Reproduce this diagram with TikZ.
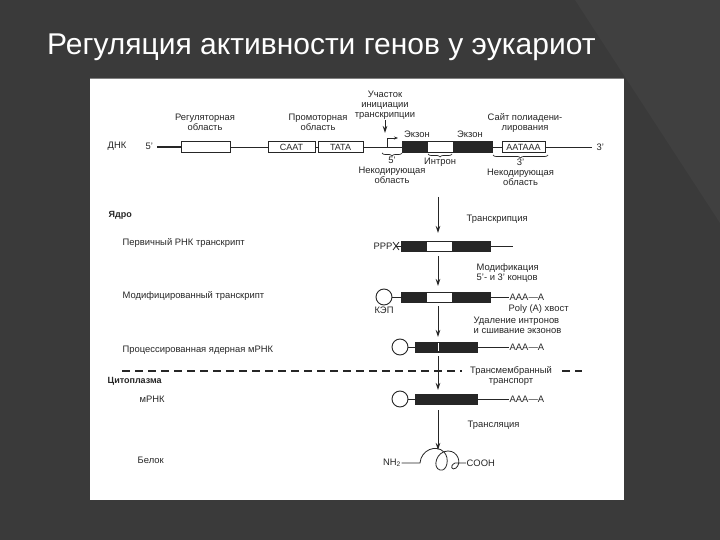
\documentclass[tikz,border=0pt]{standalone}
\usepackage{fontspec}
\setmainfont{Liberation Sans}
\usetikzlibrary{arrows.meta,decorations.pathreplacing,positioning}

\newcommand*{\arrx}{438}
\newcommand*{\rowdna}{147}
\newcommand*{\rowpri}{246}
\newcommand*{\rowmod}{297}
\newcommand*{\rowpro}{347}
\newcommand*{\rowmem}{371}
\newcommand*{\rowmrna}{399}
\newcommand*{\rowprot}{463}

\definecolor{slidebg}{HTML}{3A3A3A}
\definecolor{slidelt}{HTML}{404040}
\definecolor{ink}{HTML}{262626}

\tikzset{
  lbl/.style={font=\fontsize{9.4}{10.2}\selectfont, text=ink, inner sep=0.5pt, align=center},
  side/.style={lbl, anchor=west, align=left},
  plainbox/.style={draw=ink, line width=0.9pt, fill=white, minimum height=11, inner sep=0, font=\fontsize{9}{9}\selectfont, text=ink},
  exonbox/.style={draw=ink, fill=ink, line width=0.9pt, minimum height=11, inner sep=0},
  capnode/.style={circle, draw=ink, line width=0.9pt, minimum size=16, inner sep=0},
  strand/.style={draw=ink, line width=0.8pt},
  flow/.style={draw=ink, line width=0.9pt, -{Stealth[length=7pt,width=4.5pt]}},
  curly/.style={draw=ink, line width=0.7pt, decorate, decoration={brace, mirror, amplitude=3pt}},
  membr/.style={draw=ink, line width=1.2pt, dash pattern=on 8pt off 5pt}
}

\begin{document}
\begin{tikzpicture}[x=1pt,y=-1pt]
	\useasboundingbox (0,0) rectangle (720,540);

	% slide
	\fill[slidebg] (0,0) rectangle (720,540);
	\fill[slidelt] (575,0) -- (720,0) -- (720,223) -- cycle;
	\node[anchor=base west, text=white, font=\fontsize{30}{33}\selectfont, inner sep=0] (title) at (47,55) {Регуляция активности генов у эукариот};
	\fill[white] (90,78) rectangle (624,500);
	\draw[gray, line width=1pt] (90,79) -- (624,79);

	% DNA
	\node[side] (dnk) at (107,146) {ДНК};
	\node[side] (p5) at (145,146) {5'};
	\coordinate (d0) at (157,\rowdna);
	\node[plainbox, minimum width=49] (reg) at (205.5,\rowdna) {};
	\node[plainbox, minimum width=47] (caat) at (291.5,\rowdna) {CAAT};
	\node[plainbox, minimum width=45] (tata) at (340.5,\rowdna) {TATA};
	\node[exonbox, minimum width=25] (ex1) at (414.5,\rowdna) {};
	\node[plainbox, minimum width=26] (intr) at (440,\rowdna) {};
	\node[exonbox, minimum width=39] (ex2) at (472.5,\rowdna) {};
	\node[plainbox, minimum width=43] (aat) at (523.5,\rowdna) {AATAAA};
	\coordinate (d1) at (592,\rowdna);
	\node[side] (p3) at (596,\rowdna) {3'};
	\draw[strand, line width=1.2pt] (d0) -- (reg);
	\draw[strand] (reg) -- (caat) -- (tata) -- (ex1);
	\draw[strand] (ex2) -- (aat) -- (d1);

	% start of transcription
	\coordinate (tss) at (387,\rowdna);
	\coordinate (tssend) at (398,138);
	\coordinate (tsstop) at (385,133);
	\draw[strand, -{Stealth[length=4pt,width=3pt]}] (tss) |- (tssend);
	\node[lbl] (tsslbl) at (385,105) {Участок\\инициации\\транскрипции};
	\draw[flow] (tsslbl) -- (tsstop);

	% labels over the DNA
	\node[lbl] (regl) at (205,122) {Регуляторная\\область};
	\node[lbl] (prol) at (318,122) {Промоторная\\область};
	\node[lbl] (exl1) at (417,134) {Экзон};
	\node[lbl] (exl2) at (470,134) {Экзон};
	\node[lbl] (pal) at (525,123) {Сайт полиадени-\\лирования};

	% braces under the DNA
	\draw[curly] (382,153) -- (402,153) node[lbl, midway, below=3pt] (nc5) {5'};
	\node[lbl, below=2pt of nc5] (nc5l) {Некодирующая\\область};
	\draw[curly] (428,154) -- (452,154) node[lbl, midway, below=3pt] (intl) {Интрон};
	\draw[curly] (493,155) -- (548,155) node[lbl, midway, below=3pt] (nc3) {3'};
	\node[lbl, below=2pt of nc3] (nc3l) {Некодирующая\\область};

	% left column
	\node[side, font=\bfseries\fontsize{9}{10}\selectfont] (nucl) at (108,215) {Ядро};
	\node[side] (lpri) at (122,243) {Первичный РНК транскрипт};
	\node[side] (lmod) at (122,296) {Модифицированный транскрипт};
	\node[side] (lpro) at (122,350) {Процессированная ядерная мРНК};
	\node[side, font=\bfseries\fontsize{9}{10}\selectfont] (cyto) at (107,381) {Цитоплазма};
	\node[side] (lmrna) at (139,399) {мРНК};
	\node[side] (lprot) at (137,460) {Белок};

	% primary transcript
	\node[lbl] (ppp) at (383,\rowpri) {PPP};
	\coordinate (pppx) at (396,\rowpri);
	\draw[strand] (393,242) -- (399,250) (393,250) -- (399,242);
	\node[exonbox, minimum width=25, minimum height=10] (pe1) at (413.5,\rowpri) {};
	\node[plainbox, minimum width=26, minimum height=10] (pin) at (439,\rowpri) {};
	\node[exonbox, minimum width=38, minimum height=10] (pe2) at (471,\rowpri) {};
	\coordinate (pend) at (513,\rowpri);
	\draw[strand] (pppx) -- (pe1);
	\draw[strand] (pe2) -- (pend);

	% modified transcript
	\node[capnode] (cap1) at (384,\rowmod) {};
	\node[lbl, below=1pt of cap1] (kep) {КЭП};
	\node[exonbox, minimum width=25, minimum height=10] (me1) at (413.5,\rowmod) {};
	\node[plainbox, minimum width=26, minimum height=10] (min) at (439,\rowmod) {};
	\node[exonbox, minimum width=38, minimum height=10] (me2) at (471,\rowmod) {};
	\node[side] (polya1) at (509,\rowmod) {AAA---A};
	\node[side] (tail) at (508,309) {Poly (A) хвост};
	\draw[strand] (cap1) -- (me1);
	\draw[strand] (me2) -- (polya1);

	% processed nuclear mRNA
	\node[capnode] (cap2) at (400,\rowpro) {};
	\node[exonbox, minimum width=62, minimum height=10] (pm) at (446,\rowpro) {};
	\draw[white, line width=1pt] (438,343) -- (438,351);
	\node[side] (polya2) at (509,\rowpro) {AAA---A};
	\draw[strand] (cap2) -- (pm);
	\draw[strand] (pm) -- (polya2);

	% membrane
	\node[lbl] (tm) at (511,376) {Трансмембранный\\транспорт};
	\coordinate (m0) at (122,\rowmem);
	\coordinate (m1) at (462,\rowmem);
	\coordinate (m2) at (562,\rowmem);
	\coordinate (m3) at (582,\rowmem);
	\draw[membr] (m0) -- (m1);
	\draw[membr] (m2) -- (m3);

	% cytoplasmic mRNA
	\node[capnode] (cap3) at (400,\rowmrna) {};
	\node[exonbox, minimum width=62, minimum height=10] (cm) at (446,\rowmrna) {};
	\node[side] (polya3) at (509,\rowmrna) {AAA---A};
	\draw[strand] (cap3) -- (cm);
	\draw[strand] (cm) -- (polya3);

	% protein
	\node[lbl] (nh) at (392,\rowprot) {NH\textsubscript{2}};
	\node[side] (cooh) at (466,\rowprot) {COOH};
	\draw[strand] (nh) -- (420,\rowprot)
		.. controls (421,450) and (436,444) .. (444,452)
		.. controls (450,458) and (447,472) .. (440,470)
		.. controls (432,468) and (436,451) .. (448,451)
		.. controls (458,451) and (462,463) .. (456,468)
		.. controls (452,471) and (449,466) .. (455,\rowprot) -- (cooh);

	% steps
	\foreach \ys/\ye [count=\i] in {197/233, 256/286, 306/337, 356/390, 410/450} {
		\coordinate (s\i) at (\arrx,\ys);
		\coordinate (e\i) at (\arrx,\ye);
		\draw[flow] (s\i) -- (e\i);
	}
	\node[side] (trl) at (466,219) {Транскрипция};
	\node[side] (modl) at (476,273) {Модификация\\5'- и 3' концов};
	\node[side] (spll) at (473,325) {Удаление интронов\\и сшивание экзонов};
	\node[side] (tll) at (467,425) {Трансляция};

\end{tikzpicture}
\end{document}
